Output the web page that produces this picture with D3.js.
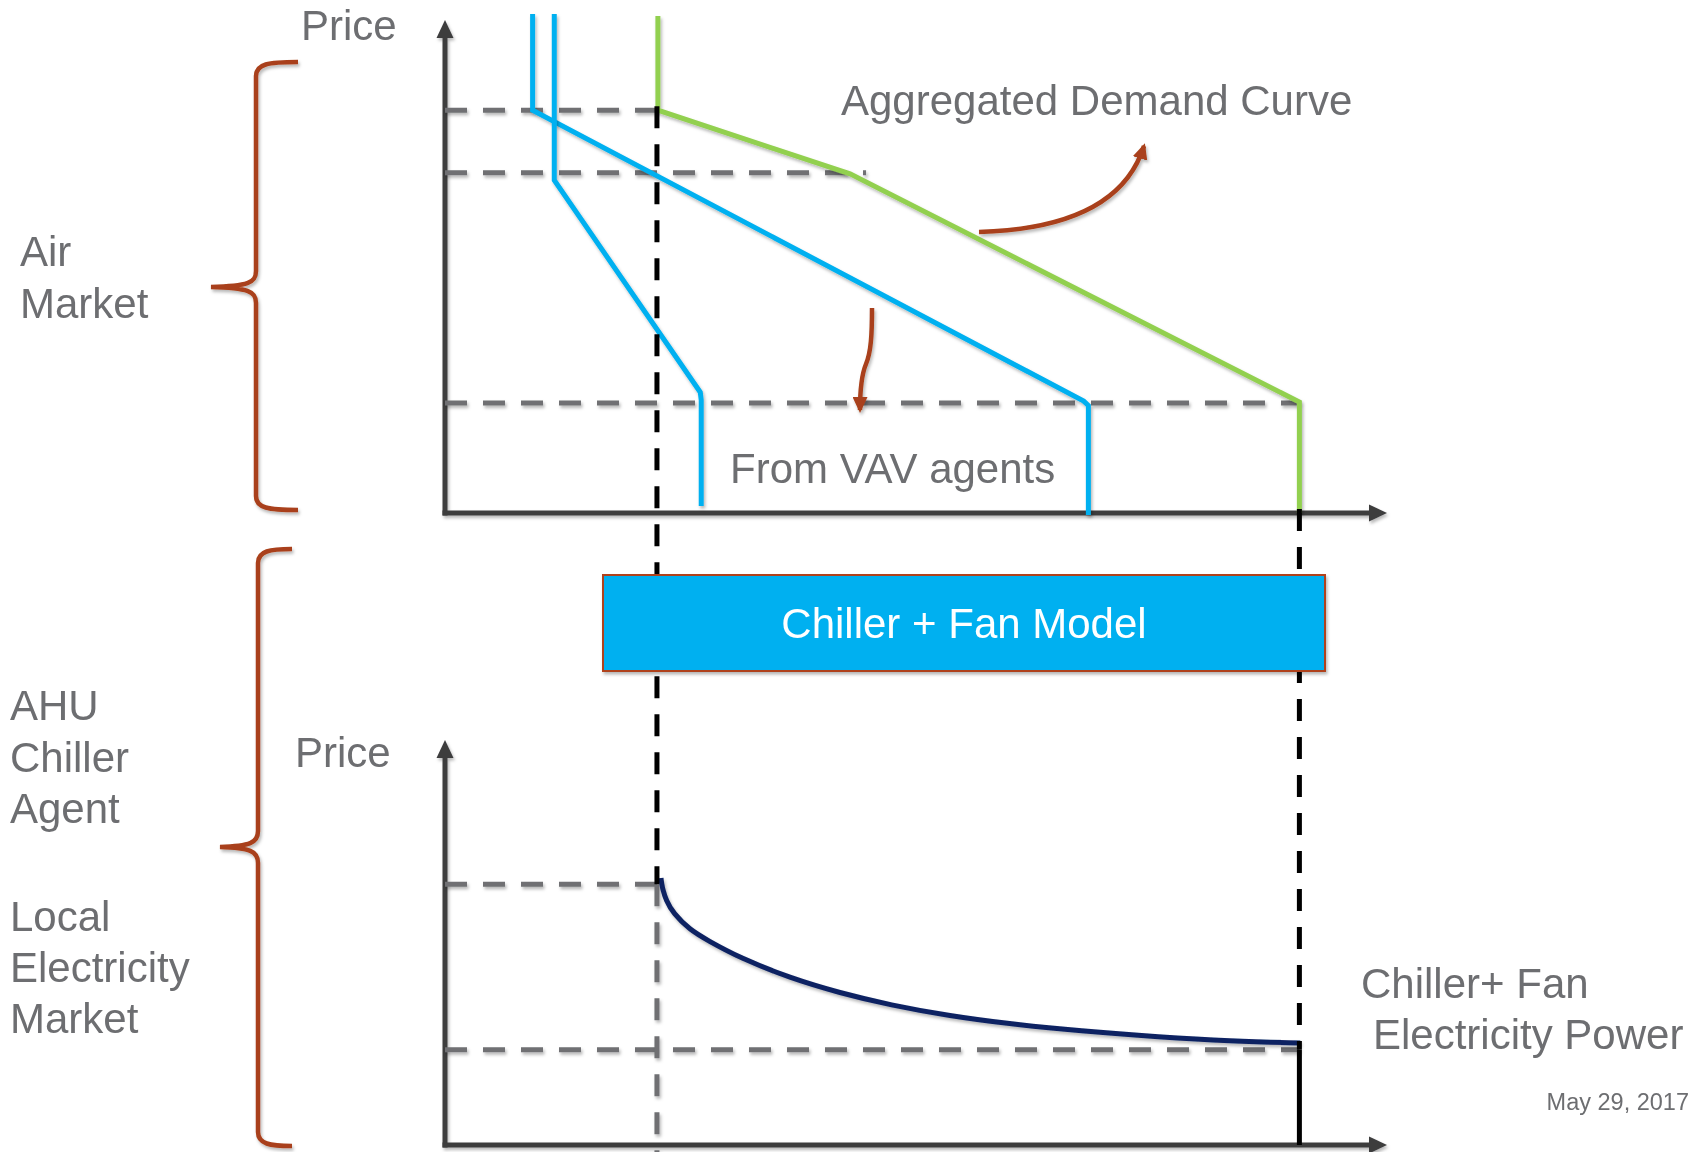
<!DOCTYPE html>
<html>
<head>
<meta charset="utf-8">
<script src="https://cdn.jsdelivr.net/npm/d3@7"></script>
<style>
  body { margin: 0; background: #ffffff; }
  svg { display: block; }
  text { font-family: "Liberation Sans", Arial, Helvetica, sans-serif; }
</style>
</head>
<body>
<svg id="chart" width="1700" height="1152"></svg>
<script>
// ---------- Air market (upper chart) ----------
// Clearing price levels and how far each dashed guide runs along the quantity axis
const airPriceLevels = [8.17, 6.90, 2.23];
const airGuideEnds   = [2.26, 4.47, 9.07];

// Bid curves of the two VAV agents and their sum
const vavAgentWide   = [[0.93, 10.12], [0.93, 8.17], [6.78, 2.27], [6.83, 2.18], [6.83, -0.04]];
const vavAgentNarrow = [[1.16, 10.12], [1.16, 6.75], [2.71, 2.45], [2.72, 2.29], [2.72, 0.14]];
const aggregatedDemand = [[2.26, 10.08], [2.26, 8.17], [4.30, 6.88], [9.07, 2.25], [9.07, 0]];

// Quantities that map into the chiller + fan model
const clearedQuantities = [2.25, 9.07];

// ---------- Local electricity market (lower chart) ----------
const elecPriceLevels = [6.44, 2.35];
const elecGuideEnds   = [2.25, 9.07];
const powerDemandX = [2.293, 2.300, 2.314, 2.346, 2.420, 2.601, 2.781, 3.132, 3.662, 4.193, 4.724,
                      5.361, 5.998, 6.741, 7.590, 8.333, 9.076, 9.080];
const powerDemandY = [6.593, 6.450, 6.296, 6.049, 5.728, 5.309, 5.062, 4.617, 4.123, 3.753, 3.457,
                      3.185, 2.988, 2.815, 2.667, 2.568, 2.519, 2.519];

// ---------- Colours ----------
const C = {
  text: "#6d6e71", axis: "#3c3c3e", guide: "#6f7073", blue: "#00b0f0",
  green: "#92d050", navy: "#0b2162", brown: "#a9401a", black: "#000000"
};

const svg = d3.select("#chart");
const defs = svg.append("defs");

// soft shadow used on strokes and the model box (user-space region so that
// perfectly horizontal / vertical lines keep a non-empty filter area)
const shadow = defs.append("filter").attr("id", "shadow")
  .attr("filterUnits", "userSpaceOnUse")
  .attr("x", 0).attr("y", 0).attr("width", 1700).attr("height", 1152);
shadow.append("feDropShadow").attr("dx", 1.5).attr("dy", 2.5)
  .attr("stdDeviation", 1.6).attr("flood-color", "#000").attr("flood-opacity", 0.28);

defs.append("marker").attr("id", "brownHead")
  .attr("markerUnits", "userSpaceOnUse")
  .attr("viewBox", "0 0 16 15")
  .attr("markerWidth", 16).attr("markerHeight", 15)
  .attr("refX", 13).attr("refY", 7.5).attr("orient", "auto")
  .append("path").attr("d", "M0,0L16,7.5L0,15Z").attr("fill", C.brown);

// Shared quantity scale, separate price scales
const x = d3.scaleLinear().domain([0, 10]).range([445, 1387]);
const yAir = d3.scaleLinear().domain([0, 10]).range([513, 20]);
const yElec = d3.scaleLinear().domain([0, 10]).range([1145, 740]);

const dashed = "22,16";
const HEAD_LEN = 18, HEAD_HALF = 8.5;

function drawAxes(yScale) {
  const x0 = x.range()[0], x1 = x.range()[1];
  const y0 = yScale.range()[0], y1 = yScale.range()[1];
  const g = svg.append("g").attr("filter", "url(#shadow)");

  const gx = g.append("g").attr("transform", `translate(0,${y0})`)
    .call(d3.axisBottom(x).tickValues([]).tickSizeOuter(0));
  gx.select(".domain").attr("d", `M${x0 - 2.5},0H${x1 - HEAD_LEN + 2}`)
    .attr("stroke", C.axis).attr("stroke-width", 5);

  const gy = g.append("g").attr("transform", `translate(${x0},0)`)
    .call(d3.axisLeft(yScale).tickValues([]).tickSizeOuter(0));
  gy.select(".domain").attr("d", `M0,${y0 + 2.5}V${y1 + HEAD_LEN - 2}`)
    .attr("stroke", C.axis).attr("stroke-width", 5);

  // arrowheads at the far ends of both axes
  g.append("path")
    .attr("d", `M${x1},${y0}L${x1 - HEAD_LEN},${y0 - HEAD_HALF}L${x1 - HEAD_LEN},${y0 + HEAD_HALF}Z`)
    .attr("fill", C.axis);
  g.append("path")
    .attr("d", `M${x0},${y1}L${x0 - HEAD_HALF},${y1 + HEAD_LEN}L${x0 + HEAD_HALF},${y1 + HEAD_LEN}Z`)
    .attr("fill", C.axis);
}

function guides(levels, ends, yScale) {
  svg.append("g").selectAll("line").data(levels).join("line")
    .attr("x1", x(0)).attr("x2", (d, i) => x(ends[i]))
    .attr("y1", d => yScale(d)).attr("y2", d => yScale(d))
    .attr("stroke", C.guide).attr("stroke-width", 5)
    .attr("stroke-dasharray", dashed).attr("filter", "url(#shadow)");
}

const line = (yScale, curve) => d3.line().x(d => x(d[0])).y(d => yScale(d[1])).curve(curve || d3.curveLinear);

// ---------- Upper chart ----------
drawAxes(yAir);
guides(airPriceLevels, airGuideEnds, yAir);

[[vavAgentWide, C.blue], [vavAgentNarrow, C.blue], [aggregatedDemand, C.green]].forEach(([pts, col]) => {
  svg.append("path").datum(pts)
    .attr("d", line(yAir))
    .attr("fill", "none").attr("stroke", col).attr("stroke-width", 5)
    .attr("stroke-linejoin", "miter").attr("filter", "url(#shadow)");
});

// ---------- Lower chart ----------
drawAxes(yElec);
guides(elecPriceLevels, elecGuideEnds, yElec);

// grey drop from the upper cleared quantity down through the lower axis
svg.append("line")
  .attr("x1", x(clearedQuantities[0])).attr("x2", x(clearedQuantities[0]))
  .attr("y1", yElec(elecPriceLevels[0])).attr("y2", 1152)
  .attr("stroke", C.guide).attr("stroke-width", 5).attr("stroke-dasharray", dashed)
  .attr("filter", "url(#shadow)");

const powerPts = powerDemandX.map((v, i) => [v, powerDemandY[i]]);
svg.append("path").datum(powerPts)
  .attr("d", line(yElec, d3.curveBasis))
  .attr("fill", "none").attr("stroke", C.navy).attr("stroke-width", 5)
  .attr("filter", "url(#shadow)");

// ---------- Black links between the two markets ----------
svg.append("line")
  .attr("x1", x(clearedQuantities[0])).attr("x2", x(clearedQuantities[0]))
  .attr("y1", yAir(airPriceLevels[0]) - 4).attr("y2", yElec(elecPriceLevels[0]))
  .attr("stroke", C.black).attr("stroke-width", 5).attr("stroke-dasharray", dashed);
svg.append("line")
  .attr("x1", x(clearedQuantities[1])).attr("x2", x(clearedQuantities[1]))
  .attr("y1", yAir(0) - 4).attr("y2", yElec(elecPriceLevels[1]))
  .attr("stroke", C.black).attr("stroke-width", 5).attr("stroke-dasharray", dashed);
svg.append("line")
  .attr("x1", x(clearedQuantities[1])).attr("x2", x(clearedQuantities[1]))
  .attr("y1", yElec(elecPriceLevels[1])).attr("y2", yElec(0))
  .attr("stroke", C.black).attr("stroke-width", 5);

// ---------- Chiller + fan model box ----------
svg.append("rect")
  .attr("x", 603).attr("y", 575).attr("width", 722).attr("height", 96)
  .attr("fill", C.blue).attr("stroke", "#b0421c").attr("stroke-width", 2)
  .attr("filter", "url(#shadow)");
svg.append("text").attr("x", 964).attr("y", 638).attr("text-anchor", "middle")
  .attr("fill", "#ffffff").attr("font-size", 42).text("Chiller + Fan Model");

// ---------- Annotation arrows ----------
svg.append("path")
  .attr("d", "M979,232 Q1118,228 1144,146")
  .attr("fill", "none").attr("stroke", C.brown).attr("stroke-width", 4.5)
  .attr("marker-end", "url(#brownHead)").attr("filter", "url(#shadow)");
svg.append("path")
  .attr("d", "M872,308 C872,335 871,352 866,364 C861,376 860,390 860,410")
  .attr("fill", "none").attr("stroke", C.brown).attr("stroke-width", 4.5)
  .attr("marker-end", "url(#brownHead)").attr("filter", "url(#shadow)");

// ---------- Braces ----------
function brace(xEnd, xBar, xTip, yTop, yMid, yBot) {
  return `M${xEnd},${yTop} C${xBar + 12},${yTop} ${xBar},${yTop + 2} ${xBar},${yTop + 14}` +
    ` L${xBar},${yMid - 16} C${xBar},${yMid - 4} ${xBar - 8},${yMid - 1} ${xTip},${yMid}` +
    ` C${xBar - 8},${yMid + 1} ${xBar},${yMid + 4} ${xBar},${yMid + 16}` +
    ` L${xBar},${yBot - 14} C${xBar},${yBot - 2} ${xBar + 12},${yBot} ${xEnd},${yBot}`;
}
svg.append("path").attr("d", brace(298, 256, 211, 62, 287, 510))
  .attr("fill", "none").attr("stroke", C.brown).attr("stroke-width", 4.5)
  .attr("filter", "url(#shadow)");
svg.append("path").attr("d", brace(292, 258, 220, 549, 847, 1146))
  .attr("fill", "none").attr("stroke", C.brown).attr("stroke-width", 4.5)
  .attr("filter", "url(#shadow)");

// ---------- Text ----------
const labels = [
  { t: "Price", x: 301, y: 40 },
  { t: "Price", x: 295, y: 767 },
  { t: "Air", x: 20, y: 266 },
  { t: "Market", x: 20, y: 318 },
  { t: "AHU", x: 10, y: 720 },
  { t: "Chiller", x: 10, y: 772 },
  { t: "Agent", x: 10, y: 823 },
  { t: "Local", x: 10, y: 931 },
  { t: "Electricity", x: 10, y: 982 },
  { t: "Market", x: 10, y: 1033 },
  { t: "Aggregated Demand Curve", x: 841, y: 115 },
  { t: "From VAV agents", x: 730, y: 483 },
  { t: "Chiller+ Fan", x: 1361, y: 998 },
  { t: "Electricity Power", x: 1373, y: 1049 }
];
svg.append("g").selectAll("text").data(labels).join("text")
  .attr("x", d => d.x).attr("y", d => d.y)
  .attr("fill", C.text).attr("font-size", 42).text(d => d.t);

svg.append("text").attr("x", 1689).attr("y", 1110).attr("text-anchor", "end")
  .attr("fill", C.text).attr("font-size", 23.5).text("May 29, 2017");
</script>
</body>
</html>
